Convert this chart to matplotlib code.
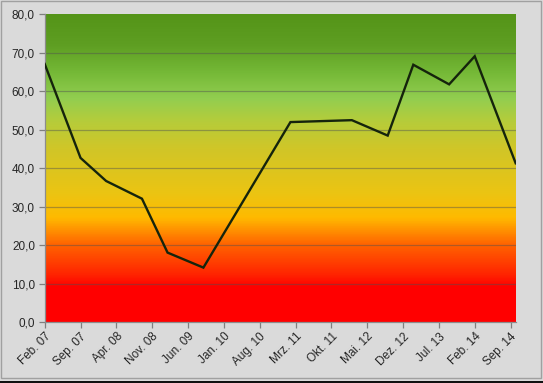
import numpy as np
import matplotlib
matplotlib.use("Agg")
import matplotlib.pyplot as plt
from matplotlib.colors import LinearSegmentedColormap
from matplotlib.patches import Rectangle

# data
dates = ["2007-02", "2007-09", "2008-02", "2008-09", "2009-02", "2009-09",
         "2011-02", "2012-02", "2012-09", "2013-02", "2013-09", "2014-02", "2014-10"]
values = [67.1, 42.7, 36.7, 32.1, 18.1, 14.2, 52.0, 52.5, 48.5, 66.9, 61.8, 69.1, 41.3]
tick_labels = ["Feb. 07", "Sep. 07", "Apr. 08", "Nov. 08", "Jun. 09", "Jan. 10", "Aug. 10",
               "Mrz. 11", "Okt. 11", "Mai. 12", "Dez. 12", "Jul. 13", "Feb. 14", "Sep. 14"]
y_ticks = [0, 10, 20, 30, 40, 50, 60, 70, 80]

def month_index(s):
    y, m = s.split("-")
    return (int(y) - 2007) * 12 + int(m) - 2

x = [month_index(d) for d in dates]
tick_pos = [7 * i for i in range(len(tick_labels))]

plt.rcParams['font.family'] = ['Liberation Sans', 'DejaVu Sans']

fig = plt.figure(figsize=(5.43, 3.83), dpi=100)
fig.patch.set_facecolor('#dadada')
ax = fig.add_axes([0.0823, 0.1585, 0.8674, 0.8042])

# gradient background
stops = [(0, (255, 0, 0)), (9, (255, 0, 0)), (12, (255, 35, 0)), (20, (255, 100, 0)),
         (27, (255, 186, 0)), (33, (236, 196, 18)), (45, (208, 198, 40)),
         (52, (182, 204, 58)), (58, (146, 206, 80)), (65, (116, 184, 54)),
         (72, (94, 158, 34)), (80, (84, 148, 24))]
cmap = LinearSegmentedColormap.from_list(
    "grad", [(v / 80, tuple(c / 255 for c in col)) for v, col in stops])
grad = np.linspace(0, 1, 400).reshape(-1, 1)
ax.imshow(grad, cmap=cmap, aspect='auto', origin='lower',
          extent=[0, 92, 0, 80], zorder=0, interpolation='bilinear')

for yv in y_ticks[1:-1]:
    ax.axhline(yv, color='#505050', alpha=0.45, lw=0.9, zorder=1)

ax.plot(x, values, color='#15240c', lw=1.7, zorder=3, solid_joinstyle='miter')

ax.set_xlim(0, 92)
ax.set_ylim(0, 80)
ax.set_yticks(y_ticks)
ax.set_yticklabels([f"{v:.1f}".replace('.', ',') for v in y_ticks])
ax.set_xticks(tick_pos)
ax.set_xticklabels(tick_labels, rotation=45, ha='right', rotation_mode='anchor')

ax.tick_params(axis='both', colors='#7f7f7f', labelcolor='#262626', labelsize=8.5,
               length=4, width=0.9, direction='out')
ax.tick_params(axis='y', pad=3)
ax.tick_params(axis='x', pad=2)

for side in ['top', 'right']:
    ax.spines[side].set_visible(False)
for side in ['left', 'bottom']:
    ax.spines[side].set_color('#8c8c8c')
    ax.spines[side].set_linewidth(0.9)

# figure frame
fig.patches.append(Rectangle((0.001, 0.012), 0.996, 0.986, transform=fig.transFigure,
                             fill=False, edgecolor='#a0a0a0', lw=1.0))
fig.patches.append(Rectangle((0, 0), 1, 0.006, transform=fig.transFigure,
                             facecolor='#111111', edgecolor='none'))

fig.savefig("out.png", dpi=100, facecolor=fig.get_facecolor())
